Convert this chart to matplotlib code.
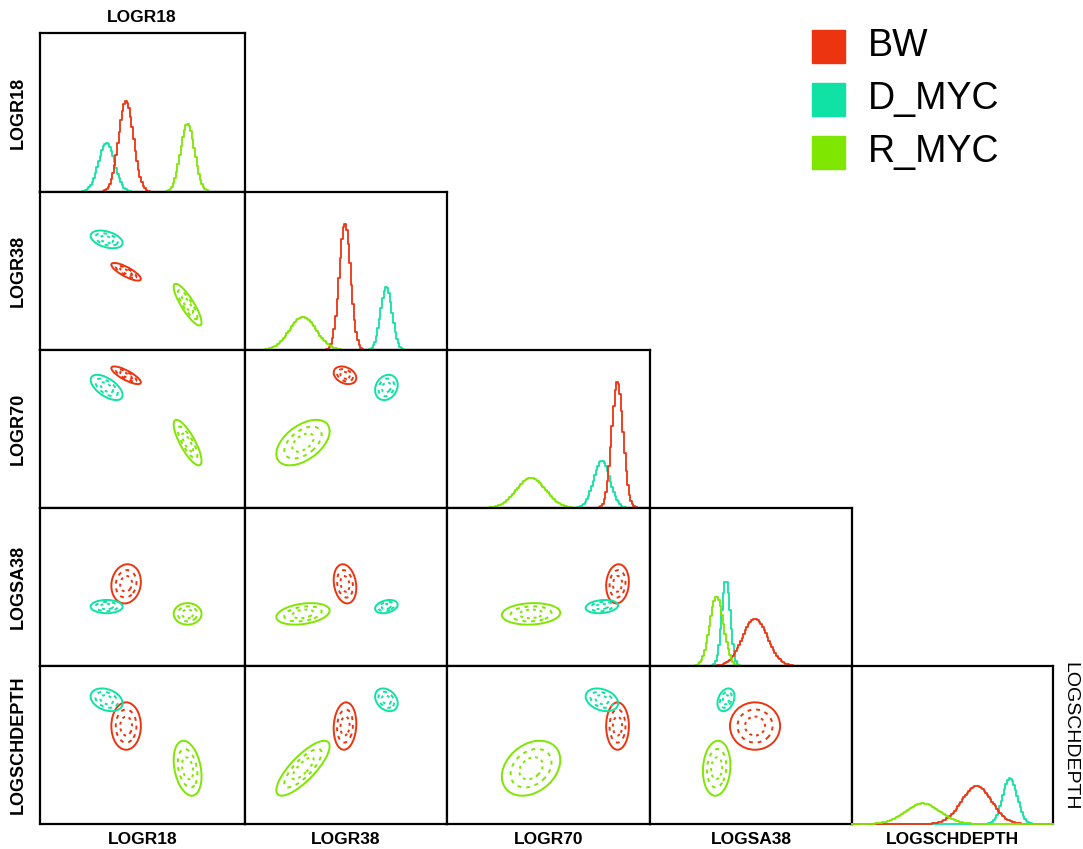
import matplotlib
matplotlib.use("Agg")
import matplotlib.pyplot as plt
import matplotlib.transforms as transforms
from matplotlib.patches import Ellipse, Rectangle
import numpy as np

plt.rcParams['font.family'] = ['Liberation Sans', 'DejaVu Sans']

# variables and groups
variables = ['LOGR18', 'LOGR38', 'LOGR70', 'LOGSA38', 'LOGSCHDEPTH']
groups = ['BW', 'D_MYC', 'R_MYC']
colors = ['#ec3410', '#0fe2a4', '#7ee600']

# group means per variable (scaled to 0..1 of the panel range)
mean_bw = [0.42, 0.495, 0.84, 0.52, 0.62]
mean_dmyc = [0.325, 0.70, 0.763, 0.376, 0.786]
mean_rmyc = [0.72, 0.287, 0.414, 0.33, 0.353]

# group standard deviations per variable (same scale)
sd_bw = [0.036, 0.028, 0.028, 0.062, 0.075]
sd_dmyc = [0.039, 0.028, 0.040, 0.021, 0.036]
sd_rmyc = [0.034, 0.066, 0.072, 0.034, 0.087]

# peak height of each density curve on the diagonal
peak_bw = [0.57, 0.80, 0.80, 0.30, 0.24]
peak_dmyc = [0.31, 0.40, 0.30, 0.54, 0.29]
peak_rmyc = [0.43, 0.21, 0.19, 0.44, 0.13]

# within-group correlations for each variable pair: (BW, D_MYC, R_MYC)
corr = {
    (0, 1): [-0.8, -0.4, -0.85],
    (0, 2): [-0.8, -0.6, -0.8],
    (1, 2): [-0.3, 0.2, 0.5],
    (0, 3): [0.1, 0.0, 0.0],
    (1, 3): [-0.2, 0.3, 0.3],
    (2, 3): [0.1, 0.2, 0.1],
    (0, 4): [0.0, -0.3, -0.3],
    (1, 4): [0.1, -0.3, 0.8],
    (2, 4): [0.0, -0.3, 0.3],
    (3, 4): [0.0, 0.3, 0.1],
}

means = [mean_bw, mean_dmyc, mean_rmyc]
sds = [sd_bw, sd_dmyc, sd_rmyc]
peaks = [peak_bw, peak_dmyc, peak_rmyc]

W, H = 1083, 849
fig = plt.figure(figsize=(W / 100, H / 100), dpi=100)

col_left = [40, 245, 447, 650, 852, 1053]
row_top = [33, 192, 350, 508, 666, 824]


def cell(r, c):
    x0, x1 = col_left[c], col_left[c + 1]
    y0, y1 = row_top[r], row_top[r + 1]
    return fig.add_axes([x0 / W, 1 - y1 / H, (x1 - x0) / W, (y1 - y0) / H])


def ellipse(ax, mx, my, sx, sy, r, k, color, ls):
    e = Ellipse((0, 0), width=2 * np.sqrt(1 + r), height=2 * np.sqrt(1 - r),
                facecolor='none', edgecolor=color, lw=1.4, ls=ls)
    t = (transforms.Affine2D().rotate_deg(45).scale(k * sx, k * sy)
         .translate(mx, my))
    e.set_transform(t + ax.transData)
    ax.add_patch(e)


for r in range(5):
    for c in range(r + 1):
        ax = cell(r, c)
        ax.set_xlim(0, 1)
        ax.set_ylim(0, 1)
        ax.set_xticks([])
        ax.set_yticks([])
        for s in ax.spines.values():
            s.set_linewidth(1.6)
            s.set_color('black')
        if r == c:
            xs = np.linspace(0, 1, 130)
            for g in [1, 0, 2]:
                y = peaks[g][r] * np.exp(-0.5 * ((xs - means[g][r]) / sds[g][r]) ** 2)
                ax.plot(xs, y, color=colors[g], lw=1.3, drawstyle='steps-mid',
                        clip_on=False, zorder=3)
            if r == 4:
                ax.spines['bottom'].set_visible(False)
        else:
            for g in range(3):
                rho = corr[(c, r)][g]
                mx, my = means[g][c], means[g][r]
                sx, sy = sds[g][c], sds[g][r]
                ellipse(ax, mx, my, sx, sy, rho, 2.0, colors[g], '-')
                ellipse(ax, mx, my, sx, sy, rho, 1.4, colors[g], (0, (2, 2.5)))
                ellipse(ax, mx, my, sx, sy, rho, 0.8, colors[g], (0, (1.5, 2)))

# axis labels
fs = 12.5
fig.text(142 / W, 1 - 18 / H, variables[0], ha='center', va='center',
         fontsize=fs, fontweight='bold')
for i, v in enumerate(variables):
    yc = (row_top[i] + row_top[i + 1]) / 2
    fig.text(18 / W, 1 - yc / H, v, ha='center', va='center', rotation=90,
             fontsize=13, fontweight='bold')
    xc = (col_left[i] + col_left[i + 1]) / 2
    fig.text(xc / W, 1 - 839 / H, v, ha='center', va='center',
             fontsize=fs, fontweight='bold')
fig.text(1070 / W, 1 - 662 / H, variables[4], ha='center', va='top',
         rotation=270, fontsize=14)

# legend
for g, name in enumerate(groups):
    yc = 46 + g * 53
    fig.patches.append(Rectangle((812 / W, 1 - (yc + 16.5) / H), 33 / W, 33 / H,
                                 transform=fig.transFigure, color=colors[g]))
    fig.text(868 / W, 1 - yc / H, name, ha='left', va='center', fontsize=27)

fig.savefig('out.png', dpi=100)
